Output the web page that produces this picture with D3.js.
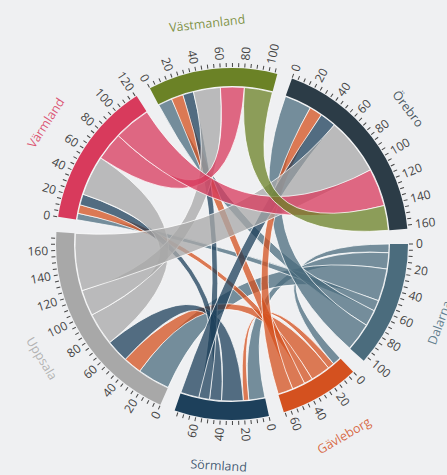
<!DOCTYPE html>
<html><head><meta charset="utf-8">
<script src="https://cdn.jsdelivr.net/npm/d3@7"></script>
<style>
html,body{margin:0;padding:0;background:#eff0f2;}
svg{display:block;font-family:"Open Sans",sans-serif;}
</style></head><body>
<svg id="chart" width="447" height="475"></svg>
<script>
// Groups in drawing order (alphabetical, clockwise starting at 3 o'clock)
const names = ["Dalarna", "Gävleborg", "Sörmland", "Uppsala", "Värmland", "Västmanland", "Örebro"];
const colors = ["#4b6c7d", "#d4511f", "#1d405b", "#a8a8a8", "#d83a5c", "#6b8226", "#2c3c47"];

// Flows (row = group, column = partner group)
const dalarna     = [0,  8, 15, 30, 10, 15, 26];
const gavleborg   = [8,  0,  6, 18,  8, 12, 14];
const sormland    = [15, 5,  0, 20, 11, 10, 17];
const uppsala     = [30, 17, 21, 0, 30, 24, 53];
const varmland    = [6,  8, 10, 37,  0, 26, 34];
const vastmanland = [13, 11, 10, 25, 22, 0, 26];
const orebro      = [25, 12, 15, 53, 35, 23, 0];
const matrix = [dalarna, gavleborg, sormland, uppsala, varmland, vastmanland, orebro];

const tickStep = 5, labelEvery = 20;

const cx = 232, cy = 244, outer = 176, inner = 158, labelR = 222;
const rot = Math.PI / 2;

const svg = d3.select("#chart");
const g = svg.append("g").attr("transform", `translate(${cx},${cy})`);

const chords = d3.chord().padAngle(5 * Math.PI / 180)(matrix);
const shift = d => Object.assign({}, d, {startAngle: d.startAngle + rot, endAngle: d.endAngle + rot});
const groups = chords.groups.map(shift);
const ribbons = Array.from(chords).map(c => ({source: shift(c.source), target: shift(c.target)}));

const norm = a => ((a % (2 * Math.PI)) + 2 * Math.PI) % (2 * Math.PI);

// ribbons
g.append("g").selectAll("path").data(ribbons).join("path")
  .attr("d", d3.ribbon().radius(inner - 1))
  .attr("fill", d => colors[Math.min(d.source.index, d.target.index)])
  .attr("fill-opacity", 0.75)
  .attr("stroke", "#ffffff").attr("stroke-opacity", 0.75).attr("stroke-width", 1);

// group arcs
g.append("g").selectAll("path").data(groups).join("path")
  .attr("d", d3.arc().innerRadius(inner).outerRadius(outer))
  .attr("fill", d => colors[d.index]);

// ticks
const k = (groups[0].endAngle - groups[0].startAngle) / groups[0].value;
const groupTicks = d => d3.range(0, d.value, tickStep).map(v => ({value: v, angle: d.startAngle + v * k}));
const tick = g.append("g").selectAll("g").data(groups.flatMap(groupTicks)).join("g")
  .attr("transform", d => `rotate(${d.angle * 180 / Math.PI - 90}) translate(${outer},0)`);
tick.append("line").attr("x1", 1).attr("x2", 5).attr("stroke", "#444").attr("stroke-width", 1);
tick.filter(d => d.value % labelEvery === 0).append("text")
  .attr("x", 8).attr("dy", "0.35em")
  .attr("transform", d => norm(d.angle) > Math.PI ? "rotate(180) translate(-16)" : null)
  .attr("text-anchor", d => norm(d.angle) > Math.PI ? "end" : "start")
  .attr("font-size", 12).attr("fill", "#444")
  .text(d => d.value);

// group names
g.append("g").selectAll("text").data(groups).join("text")
  .attr("transform", d => {
    const a = (d.startAngle + d.endAngle) / 2;
    const deg = norm(a) * 180 / Math.PI;
    const r = (deg > 90 && deg < 270) ? deg - 180 : (deg >= 270 ? deg - 360 : deg);
    return `translate(${labelR * Math.sin(a)},${-labelR * Math.cos(a)}) rotate(${r})`;
  })
  .attr("text-anchor", "middle").attr("dy", "0.35em")
  .attr("font-size", 12.5).attr("fill", d => colors[d.index]).attr("fill-opacity", 0.85)
  .text(d => names[d.index]);
</script>
</body></html>
